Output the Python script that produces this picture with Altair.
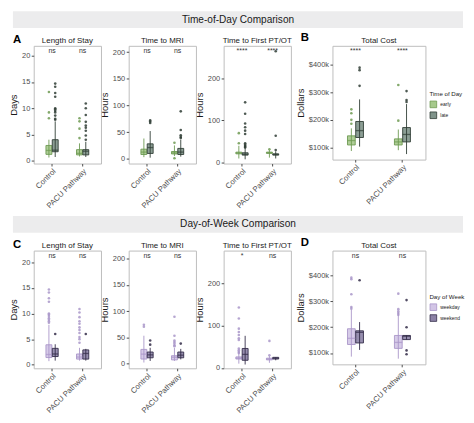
import altair as alt
import pandas as pd

FONT = "Liberation Sans"

categories = ["Control", "PACU Pathway"]
tod_groups = ["early", "late"]
dow_groups = ["weekday", "weekend"]

# Box summaries in order Control/g1, Control/g2, PACU/g1, PACU/g2:
# [low whisker, Q1, median, Q3, high whisker]
los_tod_box = [[0.6, 1.2, 1.95, 2.9, 4.0], [0.7, 1.7, 2.0, 4.0, 7.5],
               [0.8, 1.1, 1.4, 2.1, 3.3], [0.7, 1.1, 1.8, 2.1, 3.6]]
los_tod_out = [[13.1, 9.2, 8.1],
               [14.7, 14.1, 12.9, 12.2, 10.0, 9.8, 9.5, 9.2, 8.6, 8.0, 7.8],
               [8.1, 7.5, 6.1, 4.3],
               [10.9, 10.0, 8.7, 7.4, 6.7, 6.3, 5.7, 4.8, 4.0]]
los_tod_sig = ["ns", "ns"]

mri_tod_box = [[3, 8, 12.5, 18, 38], [2, 10, 21, 28, 52],
               [5, 9, 11, 13.6, 25], [4, 8, 12.5, 19.4, 36]]
mri_tod_out = [[], [72, 70, 67], [30, 1], [89, 54, 44, 41, 39]]
mri_tod_sig = ["ns", "ns"]

pt_tod_box = [[10, 21, 23, 25, 40], [8, 18, 20, 23.5, 35],
              [12, 22, 24, 25, 30], [10, 18, 19.5, 21, 27]]
pt_tod_out = [[70, 46], [143, 116, 93, 84, 76, 68, 46, 43, 40, 38, 36],
              [32], [264, 64, 30]]
pt_tod_sig = ["****", "****"]

cost_tod_box = [[87, 109, 125, 142, 169], [103, 136, 161, 194, 274],
                [90, 109, 120, 131, 165], [76, 120, 147, 172, 257]]
cost_tod_out = [[238, 224, 200, 186], [389, 380, 323], [326, 197], [304, 272, 265]]
cost_tod_sig = ["****", "****"]

los_dow_box = [[0.7, 1.4, 2.0, 3.9, 7.8], [0.8, 1.6, 2.1, 3.2, 4.0],
               [0.8, 1.1, 1.5, 2.1, 3.3], [0.8, 1.1, 2.2, 2.9, 3.1]]
los_dow_out = [[14.7, 14.1, 13.0, 12.3, 10.0, 9.8, 9.5, 9.1, 8.8, 8.5, 8.2],
               [6.0],
               [10.9, 10.2, 9.3, 8.5, 8.0, 7.3, 6.8, 6.2, 5.4, 5.0, 4.3],
               [6.0]]
los_dow_sig = ["ns", "ns"]

mri_dow_box = [[2, 8.6, 18, 27, 53], [5, 11, 16.6, 22, 30],
               [5, 7, 12, 15, 30], [8, 11, 16, 22, 28]]
mri_dow_out = [[74, 70], [44, 36], [89, 53, 44, 41, 38, 35, 33], [38]]
mri_dow_sig = ["ns", "ns"]

pt_dow_box = [[10, 21, 23, 26, 40], [8, 18, 32, 46, 76],
              [12, 19, 21, 23, 28], [18, 21, 23, 25, 25]]
pt_dow_out = [[143, 117, 93, 85, 78, 70, 66, 46, 42, 38, 35], [], [64, 30], []]
pt_dow_sig = ["*", "ns"]

cost_dow_box = [[86, 133, 157, 194, 268], [112, 139, 180, 186, 220],
                [78, 118, 141, 168, 258], [152, 152, 165, 168, 168]]
cost_dow_out = [[392, 386, 328, 278, 272], [382], [330, 270, 262, 255, 248],
                [305, 200, 110, 95]]
cost_dow_sig = ["ns", "ns"]

headers = ["Time-of-Day Comparison", "Day-of-Week Comparison"]

tod_fill = ["#a6c98c", "#7f938a"]
tod_stroke = ["#6e9a52", "#2f3d35"]
dow_fill = ["#d2c5e6", "#8c82a6"]
dow_stroke = ["#a996c9", "#332c48"]

TXT = "#4d4d4d"
LEFT = -21
RIGHT = 434


def panel(box, out, sig, field, groups, fills, strokes, title, ytitle, domain,
          ticks, w, h, pi, po, med, letter="", lx=0, ly=0, legend=None,
          label_expr=None, hdr=None):
    combos = [(c, g) for c in categories for g in groups]
    bdf = pd.DataFrame([{"cat": c, field: g, "grp": g, "lo": b[0], "q1": b[1], "med": b[2],
                         "q3": b[3], "hi": b[4]} for (c, g), b in zip(combos, box)])
    odf = pd.DataFrame([{"cat": c, "grp": g, "v": v}
                        for (c, g), vs in zip(combos, out) for v in vs])
    sdf = pd.DataFrame({"cat": categories, "label": sig})
    tdf = pd.DataFrame({"t": [title]})

    x = alt.X("cat:N", scale=alt.Scale(domain=categories, paddingInner=pi, paddingOuter=po),
              axis=alt.Axis(title=None, labelAngle=-45, labelAlign="right",
                            labelBaseline="top", labelFontSize=7.8, labelColor=TXT,
                            tickColor=TXT, tickSize=2.5, domain=False, labelPadding=1))
    xo = alt.XOffset("grp:N", scale=alt.Scale(domain=groups, paddingInner=0.06))
    ax_kw = dict(title=ytitle, values=ticks, grid=False, domain=False, labelFontSize=7.5,
                 labelColor=TXT, tickColor=TXT, tickSize=2.5, titleFontSize=9.5,
                 titleFontWeight="normal", titleColor="#1a1a1a", titlePadding=3,
                 labelPadding=1.5)
    if label_expr:
        ax_kw["labelExpr"] = label_expr
    yaxis = alt.Axis(**ax_kw)
    ys = alt.Scale(domain=domain, nice=False, zero=False)

    def Y(f):
        return alt.Y(f"{f}:Q", scale=ys, axis=yaxis)

    fill_sc = alt.Scale(domain=groups, range=fills)
    stroke_sc = alt.Scale(domain=groups, range=strokes)
    if legend is not None:
        leg = alt.Legend(orient="none", legendX=legend[0], legendY=legend[1],
                         titleFontSize=6.2, titleFontWeight="normal", titleColor="#1a1a1a",
                         labelFontSize=5, labelColor="#1a1a1a", symbolType="square",
                         symbolSize=45, symbolStrokeWidth=0.8, symbolStrokeColor="#555555",
                         rowPadding=1, titlePadding=3, labelOffset=3)
    else:
        leg = None

    layers = []
    if hdr is not None:
        hdf = pd.DataFrame({"t": [hdr]})
        layers.append(alt.Chart(hdf).mark_rect(color="#ececed").encode(
            x=alt.value(LEFT), x2=alt.value(RIGHT), y=alt.value(-35), y2=alt.value(-18)))
        layers.append(alt.Chart(hdf).mark_text(fontSize=10.2, color="#1a1a1a",
                                               font=FONT).encode(
            text="t:N", x=alt.value((LEFT + RIGHT) / 2), y=alt.value(-26.5)))

    whisk = alt.Chart(bdf).mark_rule(strokeWidth=0.9).encode(
        x=x, xOffset=xo, y=Y("lo"), y2="hi:Q",
        stroke=alt.Stroke("grp:N", scale=stroke_sc, legend=None))
    boxes = alt.Chart(bdf).mark_bar(strokeWidth=0.9, fillOpacity=0.9).encode(
        x=x, xOffset=xo, y=Y("q1"), y2="q3:Q",
        fill=alt.Fill(f"{field}:N", scale=fill_sc, title=field, legend=leg),
        stroke=alt.Stroke("grp:N", scale=stroke_sc, legend=None))
    medians = alt.Chart(bdf).mark_tick(size=med, thickness=1.3).encode(
        x=x, xOffset=xo, y=Y("med"),
        color=alt.Color("grp:N", scale=stroke_sc, legend=None))
    pts = alt.Chart(odf).mark_circle(size=7, opacity=0.85).encode(
        x=x, xOffset=xo, y=Y("v"),
        color=alt.Color("grp:N", scale=stroke_sc, legend=None))
    sigs = alt.Chart(sdf).mark_text(baseline="top", fontSize=7, color="#333333",
                                    font=FONT).encode(
        x=x, y=alt.value(1.5), text="label:N")
    ttl = alt.Chart(tdf).mark_text(baseline="alphabetic", fontSize=8, color="#1a1a1a",
                                   font=FONT).encode(
        x=alt.value(w / 2), y=alt.value(-2.5), text="t:N")
    layers += [boxes, whisk, medians, pts, sigs, ttl]
    if letter:
        ldf = pd.DataFrame({"t": [letter]})
        layers.append(alt.Chart(ldf).mark_text(fontSize=11.5, fontWeight="bold",
                                               align="left", baseline="alphabetic",
                                               color="#000000", font=FONT).encode(
            x=alt.value(lx), y=alt.value(ly), text="t:N"))
    return alt.layer(*layers).properties(width=w, height=h)


def spacer(w):
    d = pd.DataFrame({"a": [0]})
    return alt.Chart(d).mark_point(opacity=0).encode(
        x=alt.value(0), y=alt.value(0)).properties(
        width=w, height=1, view=alt.ViewBackground(stroke="transparent"))


H = 119
HB = 115
W = 68
WB = 94
IND = dict(x="independent", y="independent", fill="independent",
           stroke="independent", color="independent", xOffset="independent")


def row(p):
    return alt.hconcat(p[0], spacer(1), p[1], spacer(1), p[2], spacer(15), p[3],
                       spacing=13.5, bounds="flush").resolve_scale(**IND)


tod_args = dict(field="Time of Day", groups=tod_groups, fills=tod_fill, strokes=tod_stroke)
dow_args = dict(field="Day of Week", groups=dow_groups, fills=dow_fill, strokes=dow_stroke)

A1 = panel(los_tod_box, los_tod_out, los_tod_sig, title="Length of Stay", ytitle="Days",
           domain=[-0.55, 21.9], ticks=[0, 5, 10, 15, 20], w=W, h=H, pi=0.6, po=0.4,
           med=6, letter="A", lx=LEFT, ly=-3, hdr=headers[0], **tod_args)
A2 = panel(mri_tod_box, mri_tod_out, mri_tod_sig, title="Time to MRI", ytitle="Hours",
           domain=[-9, 212], ticks=[0, 50, 100, 150, 200], w=W, h=H, pi=0.6, po=0.4,
           med=6, **tod_args)
A3 = panel(pt_tod_box, pt_tod_out, pt_tod_sig, title="Time to First PT/OT", ytitle="Hours",
           domain=[-2, 277], ticks=[0, 100, 200], w=W, h=H, pi=0.6, po=0.4,
           med=6, **tod_args)
B = panel(cost_tod_box, cost_tod_out, cost_tod_sig, title="Total Cost", ytitle="Dollars",
          domain=[56, 468], ticks=[100, 200, 300, 400], w=WB, h=HB, pi=0.66, po=0.32,
          med=8, letter="B", lx=-32, ly=-5, legend=(98, 46),
          label_expr="'$' + datum.value + 'k'", **tod_args)

C1 = panel(los_dow_box, los_dow_out, los_dow_sig, title="Length of Stay", ytitle="Days",
           domain=[-0.7, 22.3], ticks=[0, 5, 10, 15, 20], w=W, h=H, pi=0.6, po=0.4,
           med=6, letter="C", lx=LEFT, ly=-3, hdr=headers[1], **dow_args)
C2 = panel(mri_dow_box, mri_dow_out, mri_dow_sig, title="Time to MRI", ytitle="Hours",
           domain=[-9, 215], ticks=[0, 50, 100, 150, 200], w=W, h=H, pi=0.6, po=0.4,
           med=6, **dow_args)
C3 = panel(pt_dow_box, pt_dow_out, pt_dow_sig, title="Time to First PT/OT", ytitle="Hours",
           domain=[-1, 278], ticks=[0, 100, 200], w=W, h=H, pi=0.6, po=0.4,
           med=6, **dow_args)
D = panel(cost_dow_box, cost_dow_out, cost_dow_sig, title="Total Cost", ytitle="Dollars",
          domain=[56, 497], ticks=[100, 200, 300, 400], w=WB, h=HB, pi=0.66, po=0.32,
          med=8, letter="D", lx=-32, ly=-5, legend=(98, 44),
          label_expr="'$' + datum.value + 'k'", **dow_args)

chart = alt.vconcat(
    row([A1, A2, A3, B]), row([C1, C2, C3, D]), spacing=4
).resolve_scale(**IND).properties(
    padding={"left": 0, "top": 0, "right": 0, "bottom": 1}
).configure(font=FONT).configure_view(stroke="#bdbdbd", strokeWidth=1)

chart.save("out.html", embed_options={"renderer": "svg", "actions": False})
